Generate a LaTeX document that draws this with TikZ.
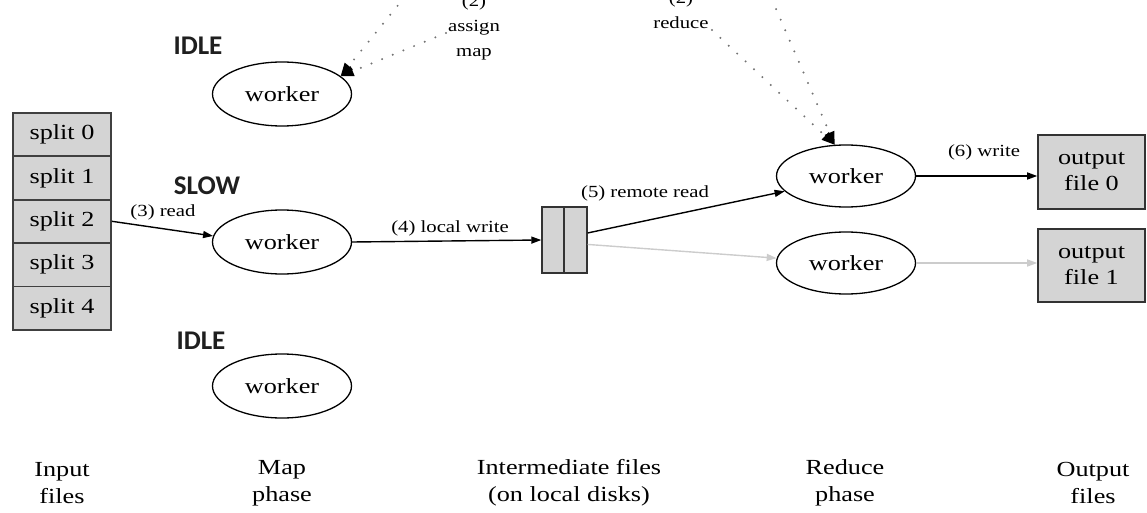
\documentclass[tikz,border=0pt]{standalone}
\usepackage{fontspec}
\setmainfont{Liberation Serif}[FakeStretch=1.22]
\newfontfamily\statefont{Carlito}
\usetikzlibrary{arrows.meta,shapes.geometric}
\newcommand{\bodyfont}{\fontsize{21.5}{27}\selectfont}
\newcommand{\smallfont}{\fontsize{17}{25}\selectfont}
\begin{document}
\begin{tikzpicture}[x=1pt,y=-1pt,
  splitbox/.style={draw=black!75, line width=1.8pt, fill=black!17, minimum width=98pt, minimum height=43.4pt, inner sep=0pt, font=\bodyfont},
  worker/.style={ellipse, draw, line width=1.3pt, minimum width=139pt, minimum height=64pt, inner sep=0pt, font=\bodyfont},
  interbox/.style={draw=black!80, line width=1.4pt, fill=black!17, minimum height=66pt, inner sep=0pt},
  outbox/.style={draw=black!80, line width=1.6pt, fill=black!17, minimum width=107pt, minimum height=74pt, inner sep=0pt, align=center, font=\bodyfont},
  flow/.style={line width=1.4pt, -{Triangle[length=10pt,width=7pt]}},
  faint/.style={flow, draw=black!20, -{Triangle[length=10pt,width=7pt,color=black!20]}},
  dots/.style={line width=2.2pt, draw=black!55, dash pattern=on 0pt off 11.5pt, line cap=round, -{Triangle[length=13pt,width=10pt,color=black,line cap=butt]}},
  lbl/.style={font=\smallfont, inner sep=0pt},
  state/.style={font=\statefont\bfseries\fontsize{27}{27}\selectfont, text=black!88, inner sep=0pt},
  caption/.style={font=\bodyfont, align=center, inner sep=0pt}]
\useasboundingbox (0,0) rectangle (1147,513);
\clip (0,0) rectangle (1147,513);

% input splits
\node[splitbox] (s0) at (62,134.5) {split 0};
\node[splitbox] (s1) at (62,177.9) {split 1};
\node[splitbox] (s2) at (62,221.3) {split 2};
\node[splitbox] (s3) at (62,264.7) {split 3};
\node[splitbox] (s4) at (62,308.1) {split 4};

% map workers
\node[state] (idle0) at (198,46) {IDLE};
\node[state] (slow) at (207,186) {SLOW};
\node[state] (idle1) at (201,341) {IDLE};
\node[worker] (m0) at (282,94) {worker};
\node[worker] (m1) at (282,242) {worker};
\node[worker] (m2) at (282,386) {worker};

% intermediate files
\node[interbox, minimum width=22pt] (i1) at (553,240) {};
\node[interbox, minimum width=23pt] (i2) at (575.5,240) {};

% reduce workers
\node[worker, minimum height=62pt] (r0) at (846,176) {worker};
\node[worker, minimum height=62pt] (r1) at (846,263) {worker};

% output files
\node[outbox] (o0) at (1091.5,172) {output\\[-1pt]file 0};
\node[outbox, minimum height=73pt] (o1) at (1091.5,265.5) {output\\[-1pt]file 1};

% flows
\draw[flow] (s2.east) -- (m1.175);
\node[lbl] (l3) at (163,212) {(3) read};
\draw[flow] (m1.east) -- (i1.west);
\node[lbl] (l4) at (450,228) {(4) local write};
\draw[flow] (i2.30) -- (r0.194);
\node[lbl] (l5) at (645,193) {(5) remote read};
\draw[faint] (i2.-20) -- (r1.176);
\draw[flow] (r0.east) -- (r0.east -| o0.west);
\node[lbl] (l6) at (984,152) {(6) write};
\draw[faint] (r1.east) -- (r1.east -| o1.west);

% assignments from master (cut off at top, as in the reference)
\node[lbl, align=center] (amap) at (474,27) {(2)\\assign\\map};
\node[lbl, align=center] (ared) at (681,10.5) {(2)\\reduce};
\coordinate (dm1) at (412,-12);
\coordinate (dm2) at (446,33);
\coordinate (dr1) at (712,30);
\coordinate (dr2) at (767,-12);
\draw[dots] (dm1) -- (m0.17);
\draw[dots] (dm2) -- (m0.17);
\draw[dots] (dr1) -- (r0.110);
\draw[dots] (dr2) -- (r0.110);

% phase captions
\node[caption] (c1) at (62,483) {Input\\files};
\node[caption] (c2) at (282,483) {Map\\phase};
\node[caption] (c3) at (569,483) {Intermediate files\\(on local disks)};
\node[caption] (c4) at (845,483) {Reduce\\phase};
\node[caption] (c5) at (1093,483) {Output\\files};
\end{tikzpicture}
\end{document}
